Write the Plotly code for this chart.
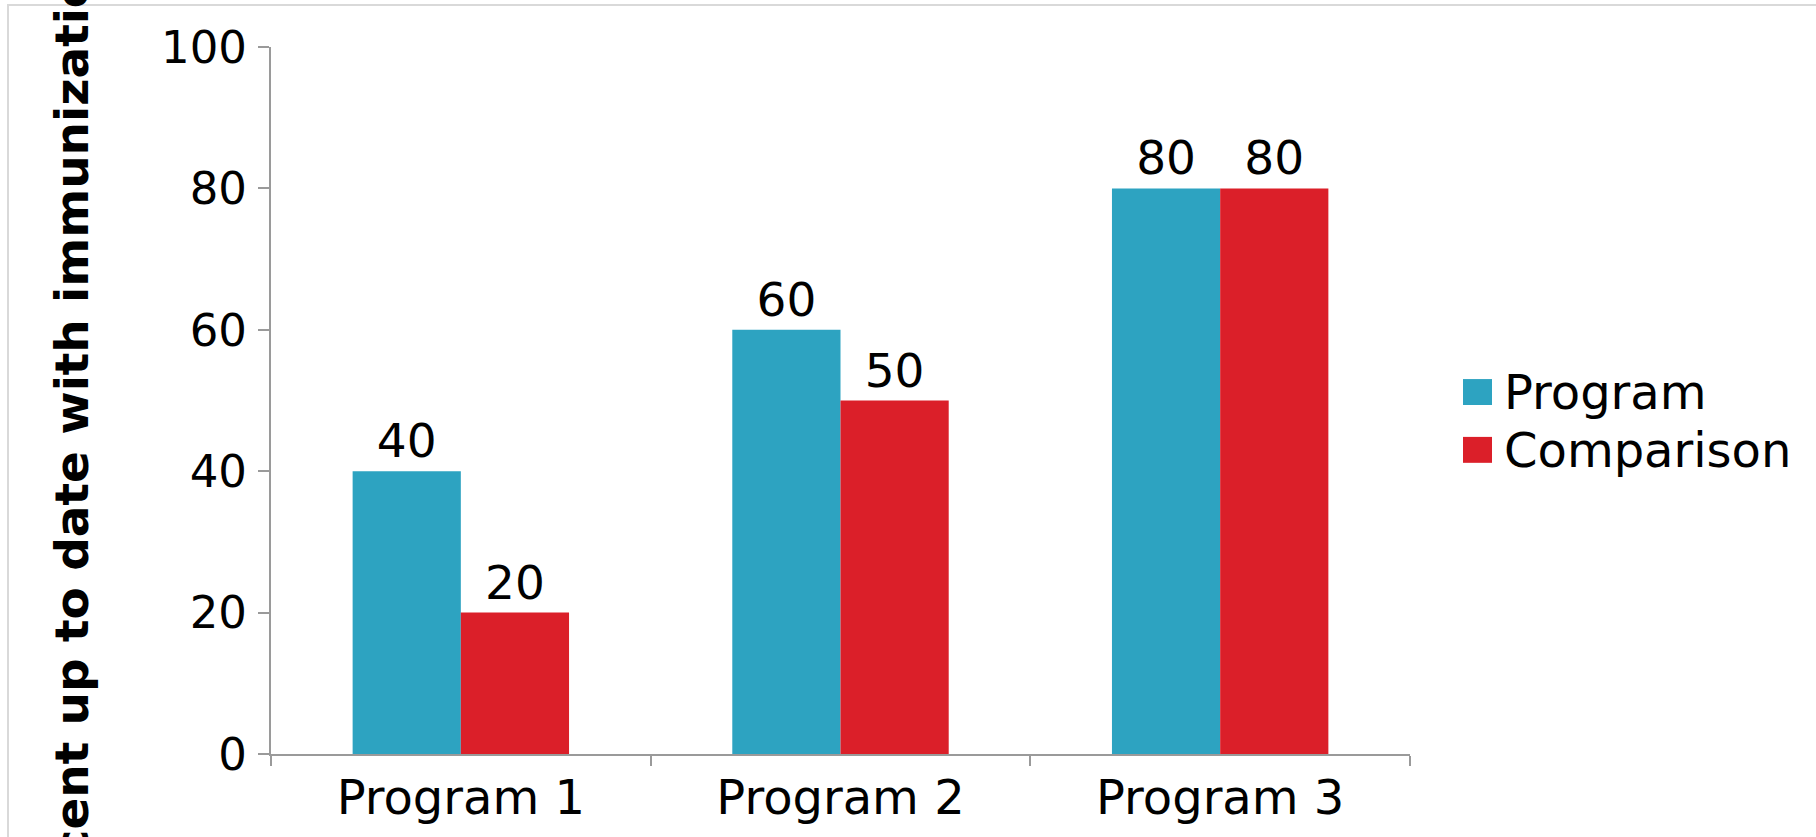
import plotly.graph_objects as go

categories = ["Program 1", "Program 2", "Program 3"]
series_names = ["Program", "Comparison"]
program_values = [40, 60, 80]
comparison_values = [20, 50, 80]
y_ticks = [0, 20, 40, 60, 80, 100]
y_title = "Percent up to date with immunizations"
colors = ["#2DA3C1", "#DB1F29"]

W, H = 1816, 837
L, R, T, B = 271, 1410, 47, 756  # plot area pixel bounds

def px(x):
    return (x - L) / (R - L)

def py(y):
    return (B - y) / (B - T)

FONT = "DejaVu Sans"
fig = go.Figure()
for name, vals, col in zip(series_names, [program_values, comparison_values], colors):
    fig.add_trace(go.Bar(
        x=categories, y=vals, name=name, marker=dict(color=col, line=dict(width=0)),
        text=[str(v) for v in vals], textposition="outside",
        textfont=dict(family=FONT, size=47, color="#000000"),
        cliponaxis=False, showlegend=False,
    ))

fig.update_layout(
    width=W, height=H,
    margin=dict(l=L, r=W - R, t=T, b=H - B, pad=0),
    paper_bgcolor="white", plot_bgcolor="white",
    barmode="group", bargap=0.43, bargroupgap=0,
    font=dict(family=FONT, color="#000000"),
    showlegend=False,
)
fig.update_yaxes(
    range=[0, 100], tickvals=y_ticks, ticks="outside", ticklen=11, tickwidth=2,
    tickcolor="#9a9a9a", showline=True, linecolor="#9a9a9a", linewidth=2,
    showgrid=False, zeroline=False, tickfont=dict(family=FONT, size=45, color="#000"),
    ticklabelstandoff=2,
)
fig.update_xaxes(
    tickson="boundaries", ticks="outside", ticklen=10, tickwidth=2,
    tickcolor="#9a9a9a", showline=True, linecolor="#9a9a9a", linewidth=2,
    showgrid=False, tickfont=dict(family=FONT, size=48, color="#000"),
)

# y-axis title (partially cut off like the reference)
fig.add_annotation(
    text=f"<b>{y_title}</b>", textangle=-90, showarrow=False,
    xref="paper", yref="paper", x=px(72), y=py(432),
    xanchor="center", yanchor="middle",
    font=dict(family=FONT, size=47, color="#000"),
)

# custom legend
leg_top = [380, 438]
for name, col, top in zip(series_names, colors, leg_top):
    fig.add_shape(type="rect", xref="paper", yref="paper",
                  x0=px(1463), x1=px(1492), y0=py(top + 26), y1=py(top),
                  fillcolor=col, line=dict(width=0))
    fig.add_annotation(text=name, showarrow=False, xref="paper", yref="paper",
                       x=px(1502), y=py(top + 13), xanchor="left", yanchor="middle",
                       font=dict(family=FONT, size=48, color="#000"))

# outer frame
fig.add_shape(type="rect", xref="paper", yref="paper",
              x0=px(8), x1=px(2000), y0=py(1000), y1=py(5),
              line=dict(color="#d9d9d9", width=2), fillcolor="rgba(0,0,0,0)", layer="above")

fig.write_html(
    "out.html",
    config={"displayModeBar": False},
    post_script="document.body.style.margin='0';document.body.style.padding='0';"
                "document.body.style.overflow='hidden';",
)
